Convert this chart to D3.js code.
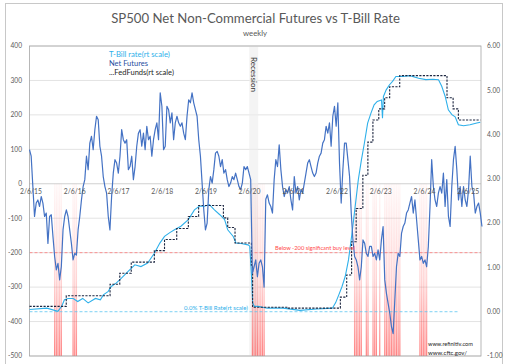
<!DOCTYPE html>
<html><head><meta charset="utf-8">
<script src="https://cdn.jsdelivr.net/npm/d3@7"></script>
<style>body{margin:0;background:#fff;} text{font-family:Lato,"Liberation Sans",Arial,sans-serif;}</style>
</head><body>
<svg id="c" width="505" height="364"></svg>
<script>
// ---------- DATA ----------
const netStart = "2015-02-06";
const netStepDays = 14;
const netFutures = [
 99, 80, -8, -95, -56, -47, -66, -37, -56, -95,
 -85, -173, -95, -90, -153, -211, -250, -231, -279, -240,
 -134, -95, -76, -95, -134, -173, -221, -202, -207, -134,
 -95, -47, -8, 12, 80, 41, 118, 138, 99, 157,
 196, 186, 109, 80, 21, -8, -27, -95, -134, -37,
 31, 70, 60, 31, 80, 157, 128, 118, 128, 41,
 50, 80, 12, 50, 109, 147, 157, 109, 147, 99,
 167, 128, 138, 80, 128, 157, 177, 128, 264, 225,
 99, 109, 225, 215, 177, 206, 128, 177, 196, 177,
 167, 177, 147, 128, 196, 244, 235, 264, 235, 215,
 196, 128, 80, 2, -76, -134, -114, -17, 21, 2,
 41, 89, 94, 80, 50, 70, 31, 41, 12, -8,
 2, 21, 12, 31, 12, -8, -17, 2, 50, 41,
 50, 31, 12,
 -260, -241, -221, -270, -231, -221, -241, -300, -45, -32,
 -56, -66, -85, 12, 70, 50, 113, 41, -8, -37,
 -17, -27, -8, -47, -76, 21, -27, -8, -47, -17,
 -27, 2, 31, 60, 70, 50, 31, 21, 31, 60,
 80, 89, 118, 128, 167, 147, 177, 109, 196, 225,
 167, 235, 60, -56, 41, 118, 118, 70, 21, -85,
 -163, -211, -221, -241, -279, -241, -163, -173, -202, -211,
 -182, -182, -211, -202, -221, -192, -221, -163, -124, -279,
 -318, -347, -376, -415, -435, -338, -241, -202, -211, -144,
 -124, -114, -85, -76, -56, -37, -85, -47, -105, -163,
 -221, -211, -231, -221, -241, -182, -66, 70, -8, -47,
 -66, -27, -8, -27, 31, -66, 12, -95, -124, -8,
 70, 109, 41, -47, -8, -66, -8, -47, -66, -17,
 80, -8, -27, -85, -66, -56, -85, -124
];
const tbillDates = ["2015-02-06","2015-07-01","2015-10-01","2015-11-01","2015-11-25","2015-12-25","2016-02-06","2016-03-15","2016-04-25","2016-06-10","2016-08-10","2016-09-20","2016-10-15","2016-11-25","2016-12-20","2017-02-01","2017-03-15","2017-05-10","2017-07-05","2017-08-25","2017-10-20","2017-12-15","2018-01-30","2018-03-10","2018-04-20","2018-06-01","2018-07-25","2018-09-25","2018-11-15","2018-12-25","2019-02-06","2019-03-20","2019-05-01","2019-06-15","2019-07-25","2019-08-20","2019-10-05","2019-10-28","2019-12-10","2020-02-06","2020-02-20","2020-03-06","2020-03-15","2020-03-30","2020-05-01","2020-07-15","2020-11-25","2021-04-15","2021-09-01","2022-01-10","2022-02-06","2022-03-05","2022-04-01","2022-04-28","2022-05-25","2022-06-20","2022-07-20","2022-08-15","2022-09-10","2022-10-05","2022-11-01","2022-11-28","2022-12-25","2023-01-20","2023-02-25","2023-03-05","2023-03-13","2023-04-05","2023-05-01","2023-05-28","2023-06-25","2023-08-20","2023-10-20","2024-01-01","2024-03-01","2024-05-01","2024-06-15","2024-07-12","2024-08-10","2024-09-05","2024-10-05","2024-11-01","2024-11-28","2025-01-10","2025-03-05","2025-05-01","2025-05-30"];
const tbillRates = [0.05,0.08,0.01,0.12,0.27,0.30,0.30,0.23,0.30,0.20,0.30,0.27,0.38,0.46,0.57,0.65,0.76,0.91,1.06,1.02,1.10,1.32,1.55,1.70,1.78,1.85,1.93,2.08,2.30,2.38,2.38,2.42,2.30,2.19,2.08,1.85,1.70,1.55,1.54,1.51,1.48,0.80,0.20,0.12,0.12,0.08,0.08,0.03,0.06,0.08,0.20,0.38,0.57,0.80,1.17,1.70,2.38,2.98,3.43,3.81,4.26,4.48,4.67,4.75,4.78,4.37,4.86,5.01,5.12,5.20,5.31,5.31,5.33,5.27,5.24,5.25,5.24,5.09,4.86,4.56,4.45,4.40,4.22,4.20,4.22,4.26,4.28];
const fedDates = ["2015-02-06","2015-12-10","2016-12-10","2017-03-01","2017-06-05","2017-12-15","2018-03-10","2018-06-20","2018-09-25","2018-12-20","2019-07-15","2019-08-20","2019-10-20","2020-03-05","2020-03-15","2021-01-01","2022-03-18","2022-05-10","2022-06-20","2022-07-28","2022-09-22","2022-11-03","2022-12-15","2023-02-02","2023-03-23","2023-05-04","2023-07-27","2024-08-25","2024-10-15","2024-11-28","2025-05-30"];
const fedRates = [0.12,0.36,0.62,0.87,1.12,1.38,1.63,1.88,2.15,2.40,2.12,1.90,1.55,1.05,0.10,0.08,0.33,0.83,1.58,2.33,3.08,3.83,4.33,4.58,4.83,5.08,5.33,4.83,4.58,4.33,4.33];
const leftTicks = [400,300,200,100,0,-100,-200,-300,-400,-500];
const rightTicks = [6,5,4,3,2,1,0,-1];
const xTickYears = [2015,2016,2017,2018,2019,2020,2021,2022,2023,2024,2025];
const recession = ["2020-02-15","2020-04-30"];
const buyLevel = -200;
const title = "SP500 Net Non-Commercial Futures vs T-Bill Rate";
const subtitle = "weekly";
const legendLabels = ["T-Bill rate(rt scale)","Net Futures","...FedFunds(rt scale)"];

// ---------- LAYOUT ----------
const svg = d3.select("#c");
const P = {l:29.5, r:481, t:46, b:356};
const parse = d3.timeParse("%Y-%m-%d");
const x = d3.scaleTime().domain([parse("2015-02-06"), parse("2025-06-05")]).range([P.l, P.r]);
const yL = d3.scaleLinear().domain([-500,400]).range([P.b, P.t]);
const yR = d3.scaleLinear().domain([-1,6]).range([P.b, P.t]);
const start = parse(netStart);
const net = netFutures.map((v,i)=>({d:d3.timeDay.offset(start, i*netStepDays), v}));
const tb = tbillDates.map((d,i)=>({d:parse(d), v:tbillRates[i]}));
const ff = fedDates.map((d,i)=>({d:parse(d), v:fedRates[i]}));

function fit(sel, w){ const l = sel.node().getComputedTextLength(); const fs = parseFloat(sel.attr("font-size")); sel.attr("font-size", (fs*w/l).toFixed(2)); return sel; }

const C = {grid:"#e3e3e3", axis:"#a6a6a6", text:"#595959", tbill:"#2eb0ea", net:"#4472c4", fed:"#1c2640", red:"#ff5a5a"};

// outer border
svg.append("rect").attr("x",5.5).attr("y",3.5).attr("width",497).attr("height",370).attr("fill","none").attr("stroke","#c8c8c8");

// gradient
const defs = svg.append("defs");
const g = defs.append("linearGradient").attr("id","redg").attr("gradientUnits","userSpaceOnUse")
  .attr("x1",0).attr("x2",0).attr("y1",yL(0)).attr("y2",yL(-500));
g.append("stop").attr("offset","0").attr("stop-color","#ff4040").attr("stop-opacity",0.04);
g.append("stop").attr("offset","0.55").attr("stop-color","#ff4040").attr("stop-opacity",0.22);
g.append("stop").attr("offset","1").attr("stop-color","#ff3030").attr("stop-opacity",0.6);

// gridlines
svg.append("g").selectAll("line").data(leftTicks).join("line")
  .attr("x1",P.l).attr("x2",P.r).attr("y1",d=>yL(d)).attr("y2",d=>yL(d))
  .attr("stroke",d=>d===0?"#d0d0d0":C.grid).attr("stroke-width",1);

// recession band
svg.append("rect").attr("x",x(parse(recession[0]))).attr("width",x(parse(recession[1]))-x(parse(recession[0])))
  .attr("y",P.t).attr("height",P.b-P.t).attr("fill","#ececec").attr("opacity",0.6);

// red bands
const bw = 1.25;
svg.append("g").selectAll("rect").data(net.filter(d=>d.v < buyLevel)).join("rect")
  .attr("x",d=>x(d.d)-bw/2).attr("width",bw).attr("y",yL(0)).attr("height",yL(-500)-yL(0))
  .attr("fill","url(#redg)");

// reference lines
svg.append("line").attr("x1",P.l).attr("x2",P.r).attr("y1",yL(buyLevel)).attr("y2",yL(buyLevel))
  .attr("stroke","#ff7b7b").attr("stroke-width",0.8).attr("stroke-dasharray","3,2");
svg.append("line").attr("x1",P.l).attr("x2",458).attr("y1",yR(0)).attr("y2",yR(0))
  .attr("stroke","#5cc6f0").attr("stroke-width",0.8).attr("stroke-dasharray","3,2");

// plot border
svg.append("rect").attr("x",P.l).attr("y",P.t).attr("width",P.r-P.l).attr("height",P.b-P.t)
  .attr("fill","none").attr("stroke",C.axis).attr("stroke-width",0.8);

// lines
const lineT = d3.line().x(d=>x(d.d)).y(d=>yR(d.v));
const lineN = d3.line().x(d=>x(d.d)).y(d=>yL(d.v));
const lineF = d3.line().x(d=>x(d.d)).y(d=>yR(d.v)).curve(d3.curveStepAfter);
svg.append("path").datum(tb).attr("d",lineT).attr("fill","none").attr("stroke",C.tbill).attr("stroke-width",1.1);
svg.append("path").datum(ff).attr("d",lineF).attr("fill","none").attr("stroke",C.fed).attr("stroke-width",1.1).attr("stroke-dasharray","2.2,1.3");
svg.append("path").datum(net).attr("d",lineN).attr("fill","none").attr("stroke",C.net).attr("stroke-width",1.2).attr("stroke-linejoin","round");

// axes labels
svg.append("g").selectAll("text").data(leftTicks).join("text")
  .attr("x",22).attr("y",d=>yL(d)).attr("dy","0.35em").attr("text-anchor","end")
  .attr("font-size",6.6).attr("fill",C.text).text(d=>d);
svg.append("g").selectAll("text").data(rightTicks).join("text")
  .attr("x",487).attr("y",d=>yR(d)).attr("dy","0.35em")
  .attr("font-size",6.6).attr("fill",C.text).text(d=>d.toFixed(2));
const fmt = d=>`${d.getMonth()+1}/${d.getDate()}/${String(d.getFullYear()).slice(2)}`;
svg.append("g").selectAll("text").data(xTickYears.map(yv=>new Date(yv,1,6))).join("text")
  .attr("x",d=>x(d)+1.5).attr("y",yL(0)+10).attr("text-anchor","middle")
  .attr("font-size",6.8).attr("fill",C.text).text(fmt);

// title
fit(svg.append("text").attr("x",255.5).attr("y",23).attr("text-anchor","middle").attr("font-size",15).attr("fill",C.text).text(title),289);
fit(svg.append("text").attr("x",255).attr("y",35.5).attr("text-anchor","middle").attr("font-size",8).attr("fill",C.text).text(subtitle),24);

// legend
const legCol = [C.tbill, "#1f4ea0", "#262626"];
const legW = [61,39,65];
legendLabels.forEach((t,i)=>{
  fit(svg.append("text").attr("x",109).attr("y",57+i*9).attr("font-size",7.5).attr("fill",legCol[i]).text(t), legW[i]);
});

// annotations
fit(svg.append("text").attr("x",275).attr("y",250).attr("font-size",7).attr("fill","#ff4b4b").text("Below -200 significant buy level"),80);
fit(svg.append("text").attr("x",184).attr("y",310).attr("font-size",7).attr("fill",C.tbill).text("0.0% T-Bill Rate(rt scale)"),64);
fit(svg.append("text").attr("x",428).attr("y",346).attr("font-size",7).attr("fill","#262626").text("www.refinitiv.com"),45);
fit(svg.append("text").attr("x",428).attr("y",354.5).attr("font-size",7).attr("fill","#262626").text("www.cftc.gov/"),39);
fit(svg.append("text").attr("transform",`translate(250.5,57) rotate(90)`).attr("font-size",7.5).attr("fill","#333").text("Recession"),35);
</script>
</body></html>
